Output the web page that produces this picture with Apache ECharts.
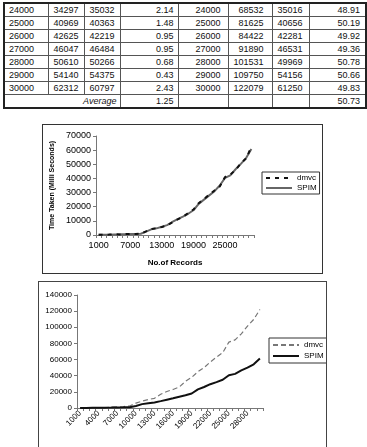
<!DOCTYPE html>
<html>
<head>
<meta charset="utf-8">
<script src="https://cdn.jsdelivr.net/npm/echarts@6/dist/echarts.min.js"></script>
<style>
body{margin:0;background:#fff;width:367px;height:447px;overflow:hidden;position:relative;font-family:"Liberation Sans",Arial,sans-serif;}
#tbl{position:absolute;left:3px;top:2px;border-collapse:collapse;border:2px solid #222;font-size:9px;color:#111;table-layout:fixed;}
#tbl td{border:1px solid #555;height:12px;padding:0 4px;line-height:12px;white-space:nowrap;}
#chart1{position:absolute;left:42px;top:124px;width:281px;height:150px;border:1px solid #333;box-sizing:border-box;}
#chart2{position:absolute;left:38px;top:281px;width:289px;height:200px;border:1px solid #444;box-sizing:border-box;}
</style>
</head>
<body>
<table id="tbl"></table>
<div id="chart1"></div>
<div id="chart2"></div>
<script>
// 表格数据
var records = [24000, 25000, 26000, 27000, 28000, 29000, 30000];
var leftDmvc = [34297, 40969, 42625, 46047, 50610, 54140, 62312];
var leftSpim = [35032, 40363, 42219, 46484, 50266, 54375, 60797];
var leftPct = ['2.14', '1.48', '0.95', '0.95', '0.68', '0.43', '2.43'];
var leftAvg = '1.25';
var rightDmvc = [68532, 81625, 84422, 91890, 101531, 109750, 122079];
var rightSpim = [35016, 40656, 42281, 46531, 49969, 54156, 61250];
var rightPct = ['48.91', '50.19', '49.92', '49.36', '50.78', '50.66', '49.83'];
var rightAvg = '50.73';

// x轴类别 1000..30000
var categories = ['1000','2000','3000','4000','5000','6000','7000','8000','9000','10000',
  '11000','12000','13000','14000','15000','16000','17000','18000','19000','20000',
  '21000','22000','23000','24000','25000','26000','27000','28000','29000','30000'];

// 图1 前23个点, 后面接表格
var chart1Dmvc = [200, 150, 300, 500, 400, 600, 800, 700, 900, 2600, 4200, 4800, 5600, 6800, 9000,
  11000, 12800, 15500, 18000, 22500, 25500, 28500, 31500].concat(leftDmvc);
var chart1Spim = [100, 150, 250, 400, 450, 550, 700, 750, 900, 2400, 4000, 4700, 5800, 7000, 9200,
  11200, 13000, 15000, 17500, 22000, 25000, 28000, 31000].concat(leftSpim);

// 图2
var chart2Dmvc = [100, 200, 300, 400, 600, 900, 1300, 1700, 2500, 6000, 8500, 10500, 12000, 17000, 20500,
  23000, 26000, 33000, 38000, 45000, 50000, 57000, 63000].concat(rightDmvc);
var chart2Spim = [50, 100, 200, 250, 400, 500, 700, 800, 1000, 2500, 4800, 5800, 6800, 8500, 10300,
  12000, 14000, 15700, 18000, 23000, 26000, 29500, 32000].concat(rightSpim);

// 生成表格
var colW = [45, 36, 36, 58, 50, 42, 37, 56];
var align = ['left', 'left', 'left', 'right', 'right', 'right', 'left', 'right'];
var padR = [4, 4, 4, 5, 8, 9, 4, 5];
var html = '<colgroup>';
for (var c = 0; c < colW.length; c++) html += '<col style="width:' + colW[c] + 'px">';
html += '</colgroup>';
function cell(txt, c){
  return '<td style="text-align:' + align[c] + ';padding-right:' + padR[c] + 'px">' + txt + '</td>';
}
for (var i = 0; i < records.length; i++) {
  html += '<tr>' + cell(records[i], 0) + cell(leftDmvc[i], 1) + cell(leftSpim[i], 2) + cell(leftPct[i], 3)
    + cell(records[i], 4) + cell(rightDmvc[i], 5) + cell(rightSpim[i], 6) + cell(rightPct[i], 7) + '</tr>';
}
html += '<tr><td colspan="3" style="text-align:right;font-style:italic;padding-right:4px">Average</td>'
  + cell(leftAvg, 3) + cell('', 4) + cell('', 5) + cell('', 6) + cell(rightAvg, 7) + '</tr>';
document.getElementById('tbl').innerHTML = html;

var font = 'Liberation Sans';
function plain(v){ return String(v); }

var chart1 = echarts.init(document.getElementById('chart1'));
var chart2 = echarts.init(document.getElementById('chart2'));

var option1 = {
  animation: false,
  grid: { left: 53, top: 11, width: 158, height: 99, outerBoundsMode: 'none' },
  legend: {
    data: ['dmvc', 'SPIM'],
    orient: 'vertical',
    left: 219, top: 47,
    itemWidth: 26, itemHeight: 8, itemGap: 2,
    padding: [2, 3, 2, 3],
    borderColor: '#333', borderWidth: 1,
    itemStyle: { opacity: 0 },
    textStyle: { fontSize: 8, color: '#000', fontFamily: font }
  },
  xAxis: {
    type: 'category',
    data: categories,
    boundaryGap: true,
    name: 'No.of Records',
    nameLocation: 'middle',
    nameGap: 24,
    nameTextStyle: { fontSize: 8, fontWeight: 'bold', color: '#000', fontFamily: font },
    axisLine: { lineStyle: { color: '#777', width: 1 } },
    axisTick: { show: true, interval: 0, length: 3, lineStyle: { color: '#777' } },
    axisLabel: { interval: 5, fontSize: 9, color: '#000', margin: 6, fontFamily: font },
    splitLine: { show: false }
  },
  yAxis: {
    type: 'value',
    min: 0, max: 70000, interval: 10000,
    name: 'Time Taken (Milli Seconds)',
    nameLocation: 'middle',
    nameGap: 34,
    nameRotate: 90,
    nameTextStyle: { fontSize: 7, fontWeight: 'bold', color: '#000', fontFamily: font },
    axisLine: { show: true, lineStyle: { color: '#777', width: 1 } },
    axisTick: { show: true, length: 3, lineStyle: { color: '#777' } },
    axisLabel: { fontSize: 9, color: '#000', margin: 5, fontFamily: font, formatter: plain },
    splitLine: { show: false }
  },
  series: [
    { name: 'dmvc', type: 'line', data: chart1Dmvc, symbol: 'none', z: 3,
      lineStyle: { color: '#111', width: 2, type: [4, 5] }, itemStyle: { color: '#111' } },
    { name: 'SPIM', type: 'line', data: chart1Spim, symbol: 'none', z: 2,
      lineStyle: { color: '#666', width: 2 }, itemStyle: { color: '#666' } }
  ]
};

var option2 = {
  animation: false,
  grid: { left: 38, top: 13, width: 186, height: 113, outerBoundsMode: 'none' },
  legend: {
    data: ['dmvc', 'SPIM'],
    orient: 'vertical',
    left: 230, top: 56,
    itemWidth: 26, itemHeight: 8, itemGap: 3,
    padding: [3, 3, 3, 3],
    borderColor: '#333', borderWidth: 1,
    itemStyle: { opacity: 0 },
    textStyle: { fontSize: 8, color: '#000', fontFamily: font }
  },
  xAxis: {
    type: 'category',
    data: categories,
    boundaryGap: true,
    axisLine: { lineStyle: { color: '#777', width: 1 } },
    axisTick: { show: true, interval: 0, length: 3, lineStyle: { color: '#777' } },
    axisLabel: { interval: 2, rotate: 45, fontSize: 8, color: '#000', margin: 4, fontFamily: font },
    splitLine: { show: false }
  },
  yAxis: {
    type: 'value',
    min: 0, max: 140000, interval: 20000,
    axisLine: { show: true, lineStyle: { color: '#777', width: 1 } },
    axisTick: { show: true, length: 3, lineStyle: { color: '#777' } },
    axisLabel: { fontSize: 8, color: '#000', margin: 5, fontFamily: font, formatter: plain },
    splitLine: { show: false }
  },
  series: [
    { name: 'dmvc', type: 'line', data: chart2Dmvc, symbol: 'none',
      lineStyle: { color: '#777', width: 1.2, type: [5, 3] }, itemStyle: { color: '#777' } },
    { name: 'SPIM', type: 'line', data: chart2Spim, symbol: 'none',
      lineStyle: { color: '#111', width: 2 }, itemStyle: { color: '#111' } }
  ]
};

chart1.setOption(option1);
chart2.setOption(option2);
</script>
</body>
</html>
